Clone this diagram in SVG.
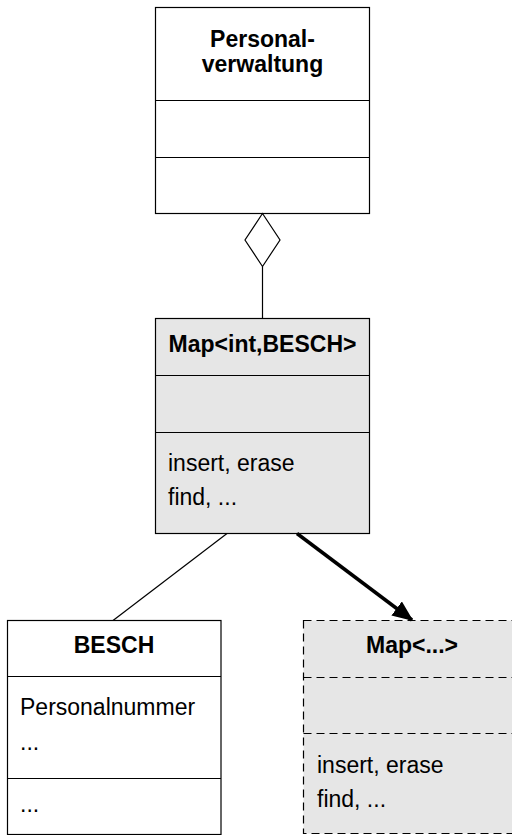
<svg xmlns="http://www.w3.org/2000/svg" width="512" height="835" viewBox="0 0 512 835">
<style>
.box{fill:#ffffff;stroke:#000;stroke-width:1.2}
.gbox{fill:#e6e6e6;stroke:#000;stroke-width:1.2}
.dbox{fill:#e6e6e6;stroke:#000;stroke-width:1.2;stroke-dasharray:8,5}
.ln{stroke:#000;stroke-width:1.2}
.dln{stroke:#000;stroke-width:1.2;stroke-dasharray:8,5}
.t{font-family:"Liberation Sans",Arial,sans-serif;font-size:23px;fill:#000}
.b{font-weight:bold;text-anchor:middle}
</style>
<defs>
<marker id="ah" markerWidth="6" markerHeight="5" refX="5.5" refY="2.5" orient="auto" markerUnits="strokeWidth">
<path d="M0,0 L6,2.5 L0,5 Z" fill="#000"/>
</marker>
</defs>
<g id="personalverwaltung">
<rect class="box" x="155.5" y="7.5" width="214" height="206"/>
<line class="ln" x1="155.5" y1="100.5" x2="369.5" y2="100.5"/>
<line class="ln" x1="155.5" y1="157.5" x2="369.5" y2="157.5"/>
<text class="t b" x="262.5" y="47">Personal-</text>
<text class="t b" x="262.5" y="72">verwaltung</text>
</g>
<g id="map-int-besch">
<rect class="gbox" x="155.5" y="318.5" width="214" height="215"/>
<line class="ln" x1="155.5" y1="375.5" x2="369.5" y2="375.5"/>
<line class="ln" x1="155.5" y1="432.5" x2="369.5" y2="432.5"/>
<text class="t b" x="262.5" y="352">Map&lt;int,BESCH&gt;</text>
<text class="t" x="168" y="471">insert, erase</text>
<text class="t" x="168" y="505">find, ...</text>
</g>
<g id="besch">
<rect class="box" x="7.5" y="620.5" width="213.5" height="214"/>
<line class="ln" x1="7.5" y1="676.5" x2="221" y2="676.5"/>
<line class="ln" x1="7.5" y1="778.5" x2="221" y2="778.5"/>
<text class="t b" x="114" y="653">BESCH</text>
<text class="t" x="20" y="715">Personalnummer</text>
<text class="t" x="20" y="750">...</text>
<text class="t" x="20" y="812">...</text>
</g>
<g id="map-generic">
<rect class="dbox" x="303.5" y="620.5" width="220" height="213"/>
<line class="dln" x1="303.5" y1="677.5" x2="512" y2="677.5"/>
<line class="dln" x1="303.5" y1="733.5" x2="512" y2="733.5"/>
<text class="t b" x="412" y="653">Map&lt;...&gt;</text>
<text class="t" x="317" y="773">insert, erase</text>
<text class="t" x="317" y="807">find, ...</text>
</g>
<g id="connectors">
<polygon points="262.5,213.5 280,240 262.5,266.5 245,240" fill="#fff" stroke="#000" stroke-width="1.2"/>
<line class="ln" x1="262.5" y1="266.5" x2="262.5" y2="318.5"/>
<line class="ln" x1="227" y1="533.5" x2="113" y2="620.5"/>
<line x1="297" y1="533.5" x2="412" y2="620" stroke="#000" stroke-width="3.5" marker-end="url(#ah)"/>
</g>
</svg>
